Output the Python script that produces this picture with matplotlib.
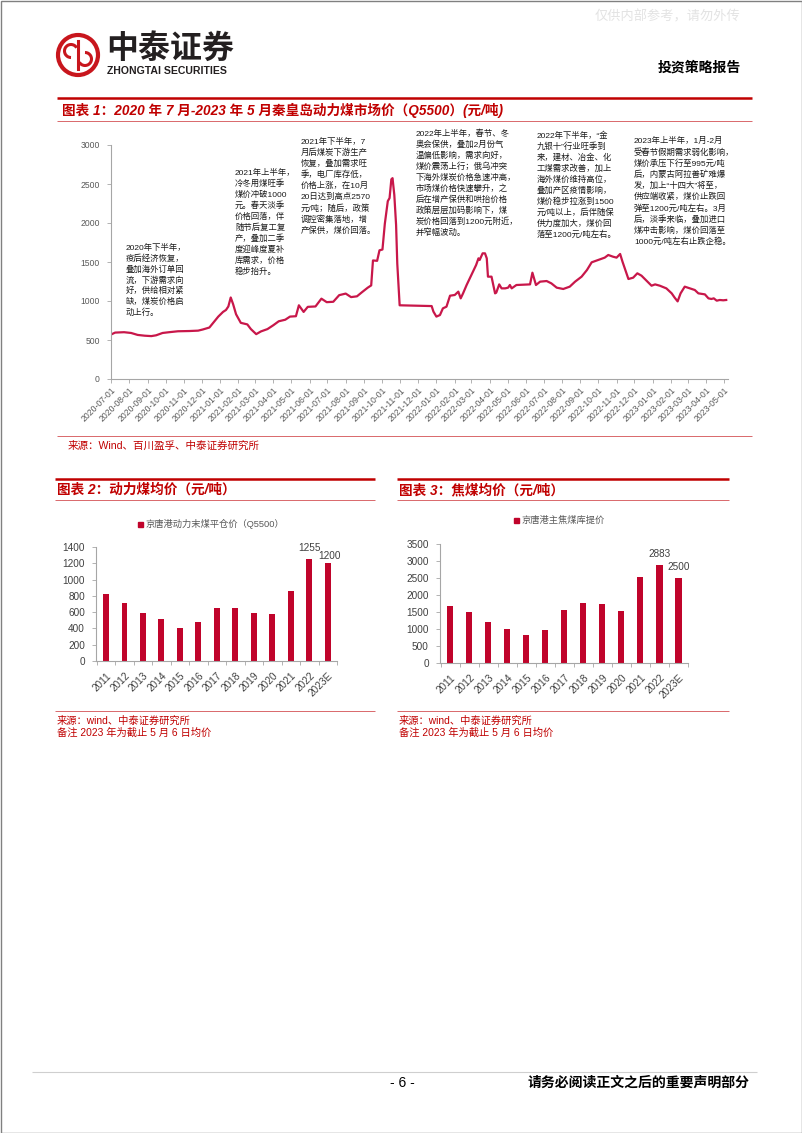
import matplotlib.pyplot as plt
from matplotlib.patches import Circle, Arc, Rectangle
import numpy as np
import pandas as pd

plt.rcParams['font.family'] = ['Liberation Sans', 'Noto Sans CJK SC']
plt.rcParams['axes.unicode_minus'] = False

# ---- data ----
price_dates = [
    '2020-07-01', '2020-07-08', '2020-07-23', '2020-08-04', '2020-08-15', '2020-08-27',
    '2020-09-07', '2020-09-15', '2020-09-26', '2020-10-07', '2020-10-22', '2020-11-10',
    '2020-11-25', '2020-12-03', '2020-12-14', '2020-12-22', '2020-12-29', '2021-01-06',
    '2021-01-11', '2021-01-15', '2021-01-19', '2021-01-23', '2021-01-28', '2021-02-05',
    '2021-02-16', '2021-02-22', '2021-03-03', '2021-03-11', '2021-03-22', '2021-04-01',
    '2021-04-10', '2021-04-21', '2021-04-29', '2021-05-09', '2021-05-14', '2021-05-22',
    '2021-05-29', '2021-06-11', '2021-06-21', '2021-06-30', '2021-07-11', '2021-07-21',
    '2021-08-01', '2021-08-10', '2021-08-20', '2021-08-28', '2021-09-07', '2021-09-13',
    '2021-09-16', '2021-09-23', '2021-09-27', '2021-10-02', '2021-10-06', '2021-10-11',
    '2021-10-14', '2021-10-17', '2021-10-19', '2021-10-22', '2021-10-25', '2021-10-27',
    '2021-10-31', '2021-12-24', '2021-12-27', '2022-01-01', '2022-01-07', '2022-01-12',
    '2022-01-18', '2022-01-24', '2022-02-01', '2022-02-07', '2022-02-11', '2022-02-15',
    '2022-02-21', '2022-03-01', '2022-03-09', '2022-03-13', '2022-03-15', '2022-03-20',
    '2022-03-24', '2022-03-27', '2022-03-29', '2022-04-04', '2022-04-10', '2022-04-12',
    '2022-04-17', '2022-04-21', '2022-04-27', '2022-05-02', '2022-05-05', '2022-05-08',
    '2022-05-16', '2022-06-08', '2022-06-12', '2022-06-18', '2022-06-25', '2022-07-06',
    '2022-07-14', '2022-07-23', '2022-08-03', '2022-08-14', '2022-08-23', '2022-09-03',
    '2022-09-12', '2022-09-20', '2022-10-01', '2022-10-12', '2022-10-18', '2022-10-26',
    '2022-11-01', '2022-11-07', '2022-11-11', '2022-11-21', '2022-11-29', '2022-12-06',
    '2022-12-13', '2022-12-22', '2022-12-30', '2023-01-05', '2023-01-13', '2023-01-24',
    '2023-02-02', '2023-02-07', '2023-02-12', '2023-02-17', '2023-02-24', '2023-03-05',
    '2023-03-13', '2023-03-19', '2023-03-30', '2023-04-05', '2023-04-10', '2023-04-14',
    '2023-04-19', '2023-04-24', '2023-04-30', '2023-05-05',
]
price_values = [
    570, 595, 600, 590, 565, 555,
    550, 560, 590, 600, 612, 615,
    620, 635, 660, 735, 800, 860,
    885, 930, 1045, 960, 830, 720,
    700, 640, 575, 610, 640, 690,
    740, 760, 800, 805, 945, 860,
    925, 930, 1030, 985, 990, 1075,
    1095, 1050, 1060, 1110, 1170, 1200,
    1520, 1515, 1650, 1660, 1990, 2280,
    2320, 2560, 2575, 2360, 1975, 1480,
    945, 935, 864, 800, 820, 906,
    927, 1068, 1077, 1120, 1034, 1098,
    1205, 1333, 1461, 1547, 1526, 1611,
    1611, 1547, 1312, 1312, 1098, 1107,
    1213, 1162, 1162, 1171, 1205, 1162,
    1205, 1213, 1363, 1205, 1248, 1256,
    1226, 1171, 1154, 1184, 1248, 1312,
    1397, 1496, 1526, 1556, 1590, 1568,
    1556, 1603, 1504, 1282, 1299, 1355,
    1325, 1256, 1196, 1213, 1196, 1162,
    1098, 1043, 995, 1098, 1184, 1162,
    1141, 1098, 1085, 1034, 1026, 1034,
    1004, 1013, 1009, 1013,
]

years = ['2011', '2012', '2013', '2014', '2015', '2016', '2017',
         '2018', '2019', '2020', '2021', '2022', '2023E']
thermal_avg = [820, 708, 594, 516, 409, 479, 647, 655, 594, 581, 864, 1255, 1200]
coking_avg = [1672, 1496, 1202, 1007, 821, 978, 1564, 1769, 1730, 1515, 2532, 2883, 2500]

note1 = ["2020年下半年，", "疫后经济恢复，", "叠加海外订单回", "流，下游需求向",
         "好，供给相对紧", "缺，煤炭价格启", "动上行。"]
note2 = ["2021年上半年，", "冷冬用煤旺季", "煤价冲破1000", "元。春天淡季", "价格回落，伴",
         "随节后复工复", "产，叠加二季", "度迎峰度夏补", "库需求，价格", "稳步抬升。"]
note3 = ["2021年下半年，7", "月后煤炭下游生产", "恢复，叠加需求旺", "季，电厂库存低，",
         "价格上涨，在10月", "20日达到高点2570", "元/吨；随后，政策", "调控密集落地，增",
         "产保供，煤价回落。"]
note4 = ["2022年上半年，春节、冬", "奥会保供，叠加2月份气", "温偏低影响，需求向好，",
         "煤价震荡上行；俄乌冲突", "下海外煤炭价格急速冲高，", "市场煤价格快速攀升，之",
         "后在增产保供和哄抬价格", "政策层层加码影响下，煤", "炭价格回落到1200元附近，",
         "并窄幅波动。"]
note5 = ["2022年下半年，“金", "九银十”行业旺季到", "来，建材、冶金、化", "工煤需求改善，加上",
         "海外煤价维持高位，", "叠加产区疫情影响，", "煤价稳步拉涨到1500", "元/吨以上，后伴随保",
         "供力度加大，煤价回", "落至1200元/吨左右。"]
note6 = ["2023年上半年，1月-2月", "受春节假期需求弱化影响，", "煤价承压下行至995元/吨",
         "后，内蒙古阿拉善矿难爆", "发，加上“十四大”将至，", "供应端收紧，煤价止跌回",
         "弹至1200元/吨左右。3月", "后，淡季来临，叠加进口", "煤冲击影响，煤价回落至",
         "1000元/吨左右止跌企稳。"]

W, H = 802, 1133
RED = '#C00000'
THIN_RED = '#D9686B'
LINE_C = '#C8174A'
BAR_C = '#C0042B'
GRAY_T = '#404040'
AX_C = '#A6A6A6'

fig = plt.figure(figsize=(W / 100, H / 100), dpi=100)
bg = fig.add_axes([0, 0, 1, 1])
bg.set_xlim(0, W)
bg.set_ylim(H, 0)
bg.axis('off')


def box(l, t, r, b):
    return [l / W, 1 - b / H, (r - l) / W, (b - t) / H]


def hline(y, x0, x1, color, lw):
    bg.plot([x0, x1], [y, y], color=color, lw=lw, solid_capstyle='butt')


# page frame
bg.add_patch(Rectangle((0.5, 0.5), W - 1, H - 1, fill=False, ec='#808080', lw=1))

# header
bg.text(595, 17, "仅供内部参考，请勿外传", fontsize=9.5, color='#E3E3E3', va='center')
bg.add_patch(Circle((78, 55), 20, fill=False, ec='#C8161D', lw=3))
bg.plot([78, 78], [41, 69], color='#C8161D', lw=2.2)
bg.add_patch(Arc((71, 51), 13, 13, theta1=90, theta2=330, color='#C8161D', lw=2.2))
bg.add_patch(Arc((85, 59), 13, 13, theta1=270, theta2=150, color='#C8161D', lw=2.2))
bg.text(106, 49, "中泰证券", fontsize=23, weight='bold', color='#231F20', va='center')
bg.text(107, 71, "ZHONGTAI SECURITIES", fontsize=7.6, weight='bold', color='#231F20', va='center')
bg.text(741, 68, "投资策略报告", fontsize=10, weight='bold', color='black', va='center', ha='right')

# ---- chart 1 ----
hline(98, 57, 752, RED, 1.8)
hline(121, 57, 752, THIN_RED, 0.7)
bg.text(62, 110, "图表 1：2020 年 7 月-2023 年 5 月秦皇岛动力煤市场价（Q5500）(元/吨)",
        fontsize=9.8, weight='bold', style='italic', color=RED, va='center')

ax1 = fig.add_axes(box(111, 145, 728, 379))
ax1.set_facecolor('none')
ax1.plot(pd.to_datetime(price_dates), price_values, color=LINE_C, lw=1.6)
ax1.set_ylim(0, 3000)
ax1.set_yticks(range(0, 3001, 500))
ax1.set_xlim(pd.Timestamp('2020-07-01'), pd.Timestamp('2023-05-08'))
ticks = pd.date_range('2020-07-01', '2023-05-01', freq='MS')
ax1.set_xticks(ticks)
ax1.set_xticklabels([t.strftime('%Y-%m-%d') for t in ticks], rotation=45, ha='right',
                    rotation_mode='anchor')
ax1.tick_params(axis='x', length=3, width=0.6, color=AX_C, labelsize=6.2, labelcolor='#595959', pad=2)
ax1.tick_params(axis='y', length=3, width=0.6, color=AX_C, labelsize=6.2, labelcolor='#595959', pad=5)
for s in ['top', 'right']:
    ax1.spines[s].set_visible(False)
for s in ['left', 'bottom']:
    ax1.spines[s].set_color(AX_C)
    ax1.spines[s].set_linewidth(0.8)

notes = [(note1, 126, 247.5, 10.9), (note2, 235, 172.5, 11.0), (note3, 301, 141.5, 11.15),
         (note4, 416, 133.3, 11.0), (note5, 537, 135.7, 11.03), (note6, 634, 141.0, 11.2)]
for lines, nx, ny, pitch in notes:
    for k, s in enumerate(lines):
        bg.text(nx, ny + k * pitch, s, fontsize=6, color='#1A1A1A', va='center')

hline(436, 57, 752, THIN_RED, 0.7)
bg.text(68, 446, "来源：Wind、百川盈孚、中泰证券研究所", fontsize=7.6, color=RED, va='center')


# ---- bar charts ----
def bar_panel(x0, x1, title, legend, values, ymax, ystep, rect, labels, leg_x, leg_y):
    hline(479, x0, x1, RED, 1.8)
    hline(500, x0, x1, THIN_RED, 0.7)
    bg.text(x0 + 2, 490, title, fontsize=9.8, weight='bold', style='italic', color=RED, va='center')
    bg.add_patch(Rectangle((leg_x - 2.5, leg_y - 2.5), 5, 5, color=BAR_C))
    bg.text(leg_x + 6, leg_y, legend, fontsize=6.7, color='#595959', va='center')

    ax = fig.add_axes(box(*rect))
    ax.set_facecolor('none')
    xs = np.arange(len(years))
    ax.bar(xs, values, width=0.32, color=BAR_C)
    ax.set_ylim(0, ymax)
    ax.set_yticks(range(0, ymax + 1, ystep))
    ax.set_xlim(-0.54, 12.46)
    ax.set_xticks(xs)
    ax.set_xticklabels(years, rotation=45, ha='right', rotation_mode='anchor')
    ax.set_xticks(np.arange(-0.5, 12.6, 1), minor=True)
    ax.tick_params(axis='x', which='major', length=0, labelsize=7.2, labelcolor=GRAY_T, pad=7)
    ax.tick_params(axis='x', which='minor', length=3, width=0.6, color=AX_C)
    ax.tick_params(axis='y', length=3, width=0.6, color=AX_C, labelsize=7.2, labelcolor=GRAY_T, pad=5)
    for s in ['top', 'right']:
        ax.spines[s].set_visible(False)
    for s in ['left', 'bottom']:
        ax.spines[s].set_color(AX_C)
        ax.spines[s].set_linewidth(0.8)
    for i, dx, dy in labels:
        ax.annotate(f'{values[i]}', (xs[i], values[i]), xytext=(dx, dy), textcoords='offset pixels',
                    ha='center', va='center', fontsize=7.2, color=GRAY_T)

    hline(710.5, x0, x1, THIN_RED, 0.7)
    bg.text(x0 + 2, 721, "来源：wind、中泰证券研究所", fontsize=7.4, color=RED, va='center')
    bg.text(x0 + 2, 733, "备注 2023 年为截止 5 月 6 日均价", fontsize=7.4, color=RED, va='center')


bar_panel(55, 375, "图表 2：动力煤均价（元/吨）", "京唐港动力末煤平仓价（Q5500）",
          thermal_avg, 1400, 200, (96, 547, 337, 661), [(11, 0, 11), (12, 2, 7)], 140, 524)
bar_panel(397, 729, "图表 3：焦煤均价（元/吨）", "京唐港主焦煤库提价",
          coking_avg, 3500, 500, (440, 544, 688, 663), [(11, 0, 11), (12, 0, 11)], 516, 520)

# footer
hline(1072, 32, 757, '#CFCFCF', 0.8)
bg.text(402, 1083, "- 6 -", fontsize=10, color='black', va='center', ha='center')
bg.text(750, 1083, "请务必阅读正文之后的重要声明部分", fontsize=10, weight='bold', color='black',
        va='center', ha='right')

fig.savefig('out.png', dpi=100)
